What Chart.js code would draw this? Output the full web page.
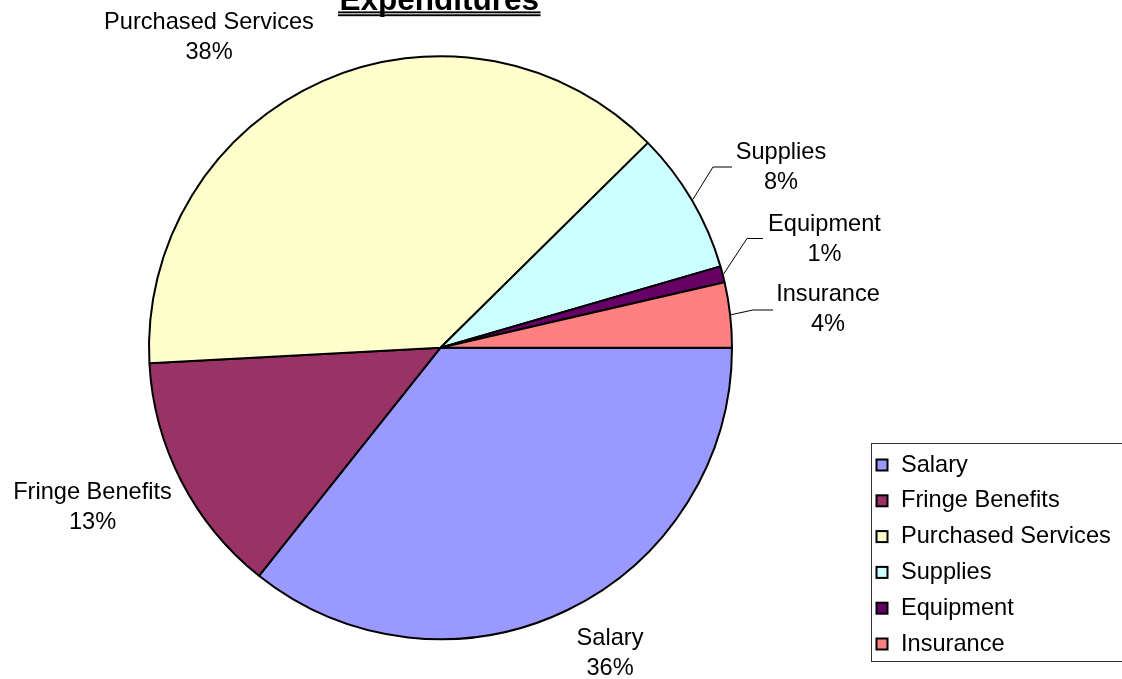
<!DOCTYPE html>
<html>
<head>
<meta charset="utf-8">
<title>Expenditures</title>
<script src="https://cdn.jsdelivr.net/npm/chart.js@4.4.1/dist/chart.umd.min.js"></script>
<style>
  html, body { margin: 0; padding: 0; background: #fff; overflow: hidden; }
  canvas { display: block; }
</style>
</head>
<body>
<canvas id="c" width="1122" height="679"></canvas>
<script>
// Expenditure categories and their share of the total (percent)
const categories = ['Salary', 'Fringe Benefits', 'Purchased Services', 'Supplies', 'Equipment', 'Insurance'];
const shares = [35.7, 13.45, 38.45, 7.9, 0.9, 3.6];
const sliceColors = ['#9999FF', '#993366', '#FFFFCC', '#CCFFFF', '#660066', '#FF8080'];
const chartTitle = 'Expenditures';

const FONT = '"Liberation Sans", Arial, sans-serif';
const TEXT_SIZE = 23.6;
const LINE_GAP = 30;

// Where each slice label sits (centre of the name line); slices with a
// leader line also get an elbow point and a line end next to the text.
const labelLayout = [
  { x: 610,   y: 638 },
  { x: 92.5,  y: 492 },
  { x: 209,   y: 22 },
  { x: 781,   y: 152,   elbow: [713, 167],   end: [732, 167] },
  { x: 824.5, y: 224,   elbow: [747, 238.5], end: [763, 238.5] },
  { x: 828,   y: 294.5, elbow: [753, 310],   end: [773, 310] }
];

// Legend frame and rows
const legendBox = { left: 871.5, top: 443.5, right: 1130, bottom: 661.5 };
const legendRows = { markerX: 876.5, markerSize: 11, textX: 901, firstY: 465, step: 35.8 };

function pctText(v, total) {
  return Math.round(v / total * 100) + '%';
}

const sliceLabels = {
  id: 'sliceLabels',
  afterDatasetsDraw(chart) {
    const ctx = chart.ctx;
    const meta = chart.getDatasetMeta(0);
    const data = chart.data.datasets[0].data;
    const total = data.reduce((a, b) => a + b, 0);
    ctx.save();
    ctx.fillStyle = '#000';
    ctx.strokeStyle = '#000';
    ctx.font = TEXT_SIZE + 'px ' + FONT;
    ctx.textAlign = 'center';
    ctx.textBaseline = 'middle';
    meta.data.forEach((arc, i) => {
      const L = labelLayout[i];
      if (L.elbow) {
        const p = arc.getProps(['x', 'y', 'startAngle', 'endAngle', 'outerRadius'], true);
        const mid = (p.startAngle + p.endAngle) / 2;
        const sx = p.x + Math.cos(mid) * (p.outerRadius + 1);
        const sy = p.y + Math.sin(mid) * (p.outerRadius + 1);
        ctx.lineWidth = 1;
        ctx.beginPath();
        ctx.moveTo(sx, sy);
        ctx.lineTo(L.elbow[0], L.elbow[1]);
        ctx.lineTo(L.end[0], L.end[1]);
        ctx.stroke();
      }
      ctx.fillText(chart.data.labels[i], L.x, L.y);
      ctx.fillText(pctText(data[i], total), L.x, L.y + LINE_GAP);
    });
    ctx.restore();
  }
};

const titleAndLegend = {
  id: 'titleAndLegend',
  afterDraw(chart) {
    const ctx = chart.ctx;
    const ds = chart.data.datasets[0];
    ctx.save();

    // Title, bold with a double underline
    ctx.fillStyle = '#000';
    ctx.font = 'bold 31.5px ' + FONT;
    ctx.textAlign = 'center';
    ctx.textBaseline = 'alphabetic';
    ctx.fillText(chartTitle, 439.3, 10);
    const tw = ctx.measureText(chartTitle).width;
    ctx.fillRect(439.3 - tw / 2 - 1.5, 11.4, tw + 3, 1.9);
    ctx.fillRect(439.3 - tw / 2 - 1.5, 14.3, tw + 3, 1.9);

    // Legend frame
    ctx.strokeStyle = '#333';
    ctx.lineWidth = 1;
    ctx.strokeRect(legendBox.left, legendBox.top,
                   legendBox.right - legendBox.left, legendBox.bottom - legendBox.top);

    // Legend entries
    ctx.font = TEXT_SIZE + 'px ' + FONT;
    ctx.textAlign = 'left';
    ctx.textBaseline = 'middle';
    chart.data.labels.forEach((name, i) => {
      const y = legendRows.firstY + i * legendRows.step;
      const s = legendRows.markerSize;
      ctx.fillStyle = ds.backgroundColor[i];
      ctx.fillRect(legendRows.markerX, y - s / 2, s, s);
      ctx.strokeStyle = '#000';
      ctx.lineWidth = 2;
      ctx.strokeRect(legendRows.markerX, y - s / 2, s, s);
      ctx.fillStyle = '#000';
      ctx.fillText(name, legendRows.textX, y);
    });
    ctx.restore();
  }
};

new Chart(document.getElementById('c'), {
  type: 'pie',
  data: {
    labels: categories,
    datasets: [{
      data: shares,
      backgroundColor: sliceColors,
      borderColor: '#000',
      borderWidth: 2,
      hoverOffset: 0
    }]
  },
  options: {
    responsive: false,
    animation: false,
    devicePixelRatio: 1,
    rotation: 90,
    radius: 291.5,
    layout: { padding: { left: 0, right: 241, top: 16.4, bottom: 0 } },
    plugins: {
      legend: { display: false },
      title: { display: false },
      tooltip: { enabled: false }
    }
  },
  plugins: [sliceLabels, titleAndLegend]
});
</script>
</body>
</html>
